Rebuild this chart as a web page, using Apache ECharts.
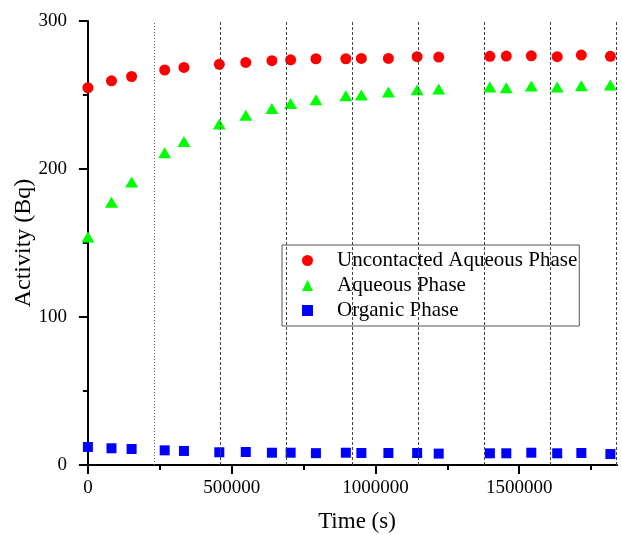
<!DOCTYPE html>
<html>
<head>
<meta charset="utf-8">
<style>
  html, body { margin: 0; padding: 0; background: #fff; }
  #chart { width: 622px; height: 535px; }
</style>
<script src="https://cdn.jsdelivr.net/npm/echarts@6/dist/echarts.min.js"></script>
</head>
<body>
<div id="chart"></div>
<script>
// sampling times (s)
const times = [0, 82000, 152000, 267000, 334000, 457000, 549000, 640000, 705000, 793000,
  897000, 951000, 1045000, 1145000, 1220000, 1398000, 1455000, 1542000, 1632000, 1716000, 1817000]

// activity (Bq)
const uncontacted = [254.9, 259.6, 262.5, 266.9, 268.6, 270.7, 272.0, 273.2, 273.8, 274.5,
  274.5, 274.7, 274.7, 275.9, 275.6, 276.1, 276.3, 276.5, 275.9, 277.0, 276.1]
const aqueous = [154.0, 177.6, 191.3, 211.0, 218.6, 230.4, 236.4, 240.9, 244.3, 246.8,
  249.5, 250.0, 252.0, 253.5, 254.0, 255.4, 254.9, 256.0, 255.4, 256.3, 256.7]
const organic = [12.2, 11.3, 10.8, 9.9, 9.5, 8.6, 8.8, 8.3, 8.3, 8.0,
  8.3, 8.1, 8.1, 8.1, 7.7, 7.9, 7.9, 8.3, 7.9, 8.1, 7.4]

// vertical divider lines (s)
const dividers = [229600, 459200, 688800, 918400, 1148000, 1377600, 1607200, 1836800]

const xTicks = [0, 500000, 1000000, 1500000]
const xMinorTicks = [250000, 750000, 1250000, 1750000]

const seriesNames = ['Uncontacted Aqueous Phase', 'Aqueous Phase', 'Organic Phase']

const font = 'Liberation Serif'
const pairs = (ys) => times.map((t, i) => [t, ys[i]])

const myChart = echarts.init(document.getElementById('chart'))

const option = {
  animation: false,
  grid: { left: 81, right: 5, top: 21, bottom: 70, outerBoundsMode: 'none' },
  legend: {
    orient: 'vertical',
    left: 282,
    top: 245,
    padding: [5, 2, 5, 20],
    itemWidth: 11,
    itemHeight: 11,
    itemGap: 4,
    borderColor: '#555',
    borderWidth: 1,
    formatter: (name) => '{g|}{n|' + name + '}',
    textStyle: {
      fontFamily: font,
      fontSize: 21,
      color: '#000',
      rich: {
        g: { width: 19 },
        n: { fontFamily: font, fontSize: 21, color: '#000' }
      }
    },
    data: [
      { name: seriesNames[0], icon: 'circle' },
      { name: seriesNames[1], icon: 'triangle' },
      { name: seriesNames[2], icon: 'rect' }
    ]
  },
  xAxis: [
    {
      type: 'value',
      min: -24000,
      max: 1840000,
      name: 'Time (s)',
      nameLocation: 'middle',
      nameGap: 45,
      nameMoveOverlap: false,
      nameTextStyle: { fontFamily: font, fontSize: 23, color: '#000', padding: [0, 0, 0, 16] },
      axisLine: { onZero: false, lineStyle: { color: '#000', width: 2 } },
      axisTick: { customValues: xTicks, length: 9, lineStyle: { color: '#000', width: 2 } },
      axisLabel: {
        customValues: xTicks,
        margin: 14,
        fontFamily: font,
        fontSize: 19,
        color: '#000',
        formatter: (v) => String(v)
      },
      splitLine: { show: false }
    },
    {
      type: 'value',
      position: 'bottom',
      min: -24000,
      max: 1840000,
      axisLine: { show: false },
      axisTick: { customValues: xMinorTicks, length: 5, lineStyle: { color: '#000', width: 2 } },
      axisLabel: { show: false },
      splitLine: { show: false }
    }
  ],
  yAxis: {
    type: 'value',
    min: 0,
    max: 300,
    interval: 100,
    name: 'Activity (Bq)',
    nameLocation: 'middle',
    nameGap: 45,
    nameMoveOverlap: false,
    nameTextStyle: { fontFamily: font, fontSize: 24, color: '#000' },
    axisLine: { show: true, lineStyle: { color: '#000', width: 2 } },
    axisTick: { show: true, length: 9, lineStyle: { color: '#000', width: 2 } },
    minorTick: { show: true, splitNumber: 2, length: 5, lineStyle: { color: '#000', width: 2 } },
    axisLabel: { margin: 14, fontFamily: font, fontSize: 19, color: '#000' },
    splitLine: { show: false }
  },
  series: [
    {
      name: seriesNames[0],
      type: 'scatter',
      symbol: 'circle',
      symbolSize: 11,
      itemStyle: { color: '#ff0000', opacity: 1 },
      data: pairs(uncontacted),
      markLine: {
        silent: true,
        symbol: 'none',
        label: { show: false },
        data: dividers.map((d, i) => ({
          xAxis: d,
          lineStyle: i === 0
            ? { color: '#666', width: 1, type: [1, 2] }
            : { color: '#444', width: 1, type: [3, 2] }
        }))
      },
      z: 3
    },
    {
      name: seriesNames[1],
      type: 'scatter',
      symbol: 'triangle',
      symbolSize: [13, 11],
      itemStyle: { color: '#00ff00', opacity: 1 },
      data: pairs(aqueous),
      z: 3
    },
    {
      name: seriesNames[2],
      type: 'scatter',
      symbol: 'rect',
      symbolSize: 10,
      itemStyle: { color: '#0000ff', opacity: 1 },
      data: pairs(organic),
      z: 3
    }
  ]
}

myChart.setOption(option)
</script>
</body>
</html>
